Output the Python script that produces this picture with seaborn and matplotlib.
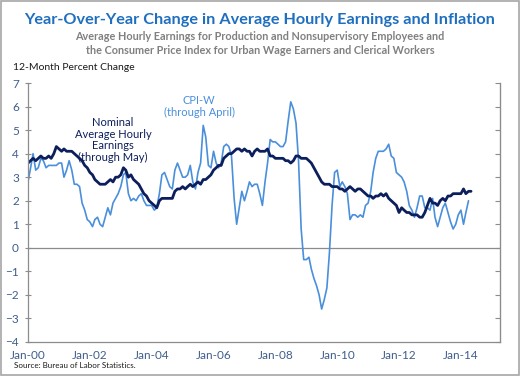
import numpy as np
import pandas as pd
import matplotlib
matplotlib.use("Agg")
import matplotlib.pyplot as plt
import matplotlib.dates as mdates
from matplotlib.patches import Rectangle
import seaborn as sns

# Nominal average hourly earnings, production & nonsupervisory, 12-month % change (Jan 2000 - May 2014)
ahe = [
    3.6, 3.7, 3.8, 3.7, 3.8, 3.9, 3.8, 3.8, 3.9, 3.8, 4.0, 4.3,   # 2000
    4.2, 4.1, 4.2, 4.1, 4.1, 4.1, 4.0, 3.9, 3.8, 3.7, 3.5, 3.4,   # 2001
    3.2, 3.1, 2.9, 2.8, 2.7, 2.7, 2.7, 2.8, 2.9, 2.8, 3.0, 3.0,   # 2002
    3.1, 3.4, 3.3, 3.0, 3.1, 2.9, 2.8, 2.7, 2.5, 2.3, 2.2, 2.0,   # 2003
    1.9, 1.8, 1.7, 2.0, 2.1, 2.1, 2.1, 2.1, 2.1, 2.4, 2.5, 2.5,   # 2004
    2.6, 2.5, 2.6, 2.7, 2.6, 2.7, 2.8, 2.7, 2.9, 2.9, 3.0, 3.1,   # 2005
    3.3, 3.4, 3.5, 3.5, 3.8, 3.9, 4.0, 4.0, 4.1, 4.2, 4.2, 4.1,   # 2006
    4.2, 4.1, 4.1, 3.9, 4.1, 4.2, 4.1, 4.1, 4.1, 4.2, 3.9, 3.9,   # 2007
    3.8, 3.8, 3.8, 3.8, 3.7, 3.7, 3.6, 3.7, 3.9, 3.9, 3.8, 3.8,   # 2008
    3.8, 3.7, 3.6, 3.4, 3.2, 3.0, 2.8, 2.7, 2.7, 2.7, 2.6, 2.6,   # 2009
    2.6, 2.5, 2.5, 2.4, 2.5, 2.6, 2.5, 2.4, 2.5, 2.5, 2.4, 2.3,   # 2010
    2.2, 2.2, 2.1, 2.2, 2.2, 2.3, 2.2, 2.3, 2.1, 2.0, 1.9, 1.8,   # 2011
    1.5, 1.7, 1.6, 1.5, 1.5, 1.4, 1.4, 1.4, 1.3, 1.3, 1.5, 1.8,   # 2012
    2.1, 1.9, 1.9, 1.8, 2.0, 2.1, 2.0, 2.2, 2.2, 2.3, 2.3, 2.3,   # 2013
    2.3, 2.5, 2.3, 2.4, 2.4,                                       # 2014
]

# CPI-W, 12-month % change (Jan 2000 - Apr 2014)
cpiw = [
    2.8, 3.4, 4.0, 3.3, 3.4, 3.8, 3.7, 3.4, 3.5, 3.5, 3.5, 3.5,   # 2000
    3.6, 3.6, 3.0, 3.3, 3.7, 3.3, 2.7, 2.7, 2.6, 1.9, 1.6, 1.2,   # 2001
    1.1, 0.9, 1.2, 1.3, 1.0, 0.9, 1.3, 1.7, 1.4, 1.9, 2.1, 2.3,   # 2002
    2.6, 3.1, 3.2, 2.3, 2.0, 2.1, 2.0, 2.2, 2.3, 2.0, 1.8, 1.8,   # 2003
    1.8, 1.6, 1.7, 2.3, 3.1, 3.2, 2.9, 2.6, 2.5, 3.3, 3.6, 3.3,   # 2004
    3.0, 3.0, 3.1, 3.5, 2.8, 2.5, 3.2, 3.6, 5.2, 4.7, 3.5, 3.4,   # 2005
    4.1, 3.6, 3.4, 3.6, 4.3, 4.4, 4.3, 3.9, 2.1, 1.0, 1.7, 2.4,   # 2006
    2.0, 2.4, 2.8, 2.6, 2.7, 2.7, 2.3, 1.8, 2.8, 3.6, 4.6, 4.5,   # 2007
    4.5, 4.4, 4.3, 4.3, 4.5, 5.4, 6.2, 5.9, 5.3, 3.7, 0.8, -0.5,  # 2008
    -0.5, -0.4, -0.9, -1.3, -1.6, -2.0, -2.6, -2.2, -1.7, -0.2, 1.8, 3.2,  # 2009
    3.3, 2.6, 2.8, 2.6, 2.3, 1.2, 1.4, 1.4, 1.3, 1.4, 1.3, 1.8,   # 2010
    1.9, 2.4, 3.2, 3.8, 4.1, 4.1, 4.1, 4.2, 4.4, 3.9, 3.8, 3.2,   # 2011
    3.1, 3.0, 2.8, 2.4, 1.8, 1.6, 1.3, 1.7, 2.2, 2.2, 1.7, 1.7,   # 2012
    1.6, 2.1, 1.3, 0.9, 1.3, 1.7, 1.9, 1.5, 1.1, 0.8, 1.0, 1.4,   # 2013
    1.6, 1.0, 1.5, 2.0,                                            # 2014
]

y_ticks = [-4, -3, -2, -1, 0, 1, 2, 3, 4, 5, 6, 7]
x_tick_years = [2000, 2002, 2004, 2006, 2008, 2010, 2012, 2014]

title = "Year-Over-Year Change in Average Hourly Earnings and Inflation"
subtitle1 = "Average Hourly Earnings for Production and Nonsupervisory Employees and"
subtitle2 = "the Consumer Price Index for Urban Wage Earners and Clerical Workers"
ylabel = "12-Month Percent Change"
source = "Source: Bureau of Labor Statistics."

df_ahe = pd.DataFrame({"date": pd.date_range("2000-01-01", periods=len(ahe), freq="MS"), "value": ahe})
df_cpi = pd.DataFrame({"date": pd.date_range("2000-01-01", periods=len(cpiw), freq="MS"), "value": cpiw})

sns.set_style("white")
plt.rcParams["font.family"] = ["Lato", "DejaVu Sans"]

DARK = "#0c1f5c"
LIGHT = "#4a8fdc"
TICKC = "#3f5e8c"

fig = plt.figure(figsize=(5.2, 3.76), dpi=100)
ax = fig.add_axes([28 / 520, 1 - 342 / 376, (500 - 28) / 520, (342 - 83) / 376])

sns.lineplot(data=df_cpi, x="date", y="value", ax=ax, color=LIGHT, linewidth=1.2)
sns.lineplot(data=df_ahe, x="date", y="value", ax=ax, color=DARK, linewidth=2.0)

ax.axhline(0, color="#8c8c8c", linewidth=0.9, zorder=0)
ax.set_ylim(-4, 7)
ax.set_xlim(pd.Timestamp("2000-01-01"), pd.Timestamp("2015-04-08"))
ax.set_yticks(y_ticks)
ax.set_xticks([pd.Timestamp(f"{y}-01-01") for y in x_tick_years])
ax.xaxis.set_major_formatter(mdates.DateFormatter("%b-%y"))
ax.set_xlabel("")
ax.set_ylabel("")
ax.spines["top"].set_visible(False)
for s in ["left", "bottom", "right"]:
    ax.spines[s].set_color("#8c8c8c")
    ax.spines[s].set_linewidth(0.9)
ax.tick_params(axis="both", direction="inout", length=5, width=0.8, color="#8c8c8c",
               labelsize=8.5, labelcolor=TICKC, pad=3)
ax.tick_params(axis="y", pad=4)

ax2 = ax.twinx()
ax2.set_ylim(-4, 7)
ax2.set_yticks(y_ticks)
ax2.tick_params(axis="y", direction="in", length=3.5, color="#8c8c8c", labelright=False)
for s in ["top", "left", "bottom"]:
    ax2.spines[s].set_visible(False)
ax2.spines["right"].set_color("#8c8c8c")

ax.text(pd.Timestamp("2002-10-01"), 3.62, "Nominal\nAverage Hourly\nEarnings\n(through May)",
        ha="center", va="bottom", color=DARK, fontsize=8, linespacing=1.05)
ax.text(pd.Timestamp("2005-07-15"), 5.52, "CPI-W\n(through April)",
        ha="center", va="bottom", color=LIGHT, fontsize=8, linespacing=1.05)

fig.text(0.5, 1 - 20 / 376, title, ha="center", va="center", color="#1f6fbf",
         fontsize=11.7, fontweight="bold")
fig.text(0.5, 1 - 37 / 376, subtitle1, ha="center", va="center", color="#808080",
         fontsize=7.8, fontweight="bold")
fig.text(0.5, 1 - 51 / 376, subtitle2, ha="center", va="center", color="#808080",
         fontsize=7.8, fontweight="bold")
fig.text(13 / 520, 1 - 68 / 376, ylabel, ha="left", va="center", color="#1a1a1a", fontsize=7.5)
fig.text(14 / 520, 1 - 365 / 376, source, ha="left", va="center", color="#1a1a1a", fontsize=5.8)

fig.add_artist(Rectangle((0.002, 0.003), 0.996, 0.994, transform=fig.transFigure,
                         fill=False, edgecolor="#a6a6a6", linewidth=1.2))

fig.savefig("out.png", dpi=100)
